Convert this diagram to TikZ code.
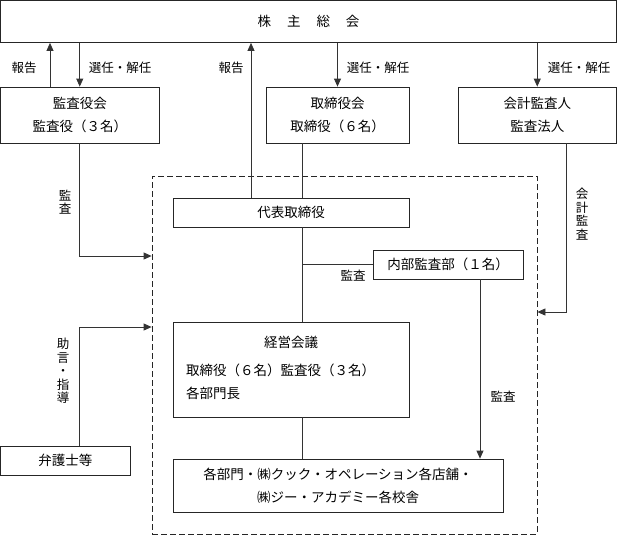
\documentclass[tikz,border=0pt]{standalone}
\usepackage{fontspec}
\setmainfont{Noto Sans CJK JP}
\usetikzlibrary{arrows.meta}
\begin{document}
\begin{tikzpicture}[x=1pt,y=-1pt,
  box/.style={draw=black!85, line width=0.8pt, inner sep=0pt, font=\fontsize{13.5}{23}\selectfont, align=center},
  dbox/.style={draw=black!85, line width=0.8pt, dash pattern=on 6pt off 3pt, inner sep=0pt},
  ln/.style={draw=black!80, line width=0.8pt},
  arr/.style={ln, -{Triangle[length=8pt,width=7pt]}},
  lbl/.style={font=\fontsize{12.5}{13.5}\selectfont, inner sep=0pt, align=center}]
\useasboundingbox (0,0) rectangle (617,536);
% boxes
\node[box, minimum width=616, minimum height=42] (top) at (308.5,21.5) {株\hspace{16pt}主\hspace{16pt}総\hspace{16pt}会};
\node[box, minimum width=158.5, minimum height=56] (kansa) at (79.75,115) {監査役会\\監査役（３名）};
\node[box, minimum width=143, minimum height=56] (tori) at (337.5,115) {取締役会\\取締役（６名）};
\node[box, minimum width=158.5, minimum height=56] (kaikei) at (537.25,115) {会計監査人\\監査法人};
\node[dbox, minimum width=385, minimum height=358] (org) at (344.5,355) {};
\node[box, minimum width=236, minimum height=29] (daihyo) at (291,212.5) {代表取締役};
\node[box, minimum width=150, minimum height=29] (naibu) at (448,264.5) {内部監査部（１名）};
\node[box, minimum width=236, minimum height=95] (keiei) at (291,369.5) {};
\node[lbl, font=\fontsize{13.5}{23}\selectfont] (keieiT) at (291,342) {経営会議};
\node[lbl, font=\fontsize{13.5}{23}\selectfont, anchor=west] (keiei1) at (186,370) {取締役（６名）監査役（３名）};
\node[lbl, font=\fontsize{13.5}{23}\selectfont, anchor=west] (keiei2) at (186,393) {各部門長};
\node[box, minimum width=330, minimum height=53] (kaku) at (338,485.5) {各部門・㈱クック・オペレーション各店舗・\\㈱ジー・アカデミー各校舎};
\node[box, minimum width=129.5, minimum height=29] (ben) at (65.25,460.5) {弁護士等};
% helper coordinates
\coordinate (x50) at (50,0);
\coordinate (x251) at (251,0);
\coordinate (x302) at (302,0);
\coordinate (x480) at (480,0);
\coordinate (x566) at (566,0);
\coordinate (y256) at (0,256);
\coordinate (y312) at (0,312);
\coordinate (y327) at (0,327);
\coordinate (x79) at (79.5,0);
% connectors
\draw[arr] (kansa.north -| x50) -- (top.south -| x50);
\draw[arr] (top.south -| kansa.north) -- (kansa.north);
\draw[arr] (daihyo.north -| x251) -- (top.south -| x251);
\draw[arr] (top.south -| tori.north) -- (tori.north);
\draw[arr] (top.south -| kaikei.north) -- (kaikei.north);
\draw[ln] (tori.south -| x302) -- (daihyo.north -| x302);
\draw[ln] (daihyo.south -| x302) -- (keiei.north -| x302);
\draw[ln] (keiei.south -| x302) -- (kaku.north -| x302);
\draw[ln] (naibu.west |- naibu.center) -- (naibu.center -| x302);
\draw[arr] (naibu.south -| x480) -- (kaku.north -| x480);
\draw[arr] (kansa.south) -- (kansa.south |- y256) -- (org.west |- y256);
\draw[arr] (kaikei.south -| x566) -- (x566 |- y312) -- (org.east |- y312);
\draw[arr] (ben.north -| x79) -- (x79 |- y327) -- (org.west |- y327);
% labels
\node[lbl] (l1) at (24,68) {報告};
\node[lbl] (l2) at (120,68) {選任・解任};
\node[lbl] (l3) at (231,68) {報告};
\node[lbl] (l4) at (378,68) {選任・解任};
\node[lbl] (l5) at (579,68) {選任・解任};
\node[lbl] (l6) at (65,202) {監\\査};
\node[lbl] (l7) at (582,214) {会\\計\\監\\査};
\node[lbl] (l8) at (63,371) {助\\言\\・\\指\\導};
\node[lbl] (l9) at (353,276) {監査};
\node[lbl] (l10) at (503,397) {監査};
\end{tikzpicture}
\end{document}
